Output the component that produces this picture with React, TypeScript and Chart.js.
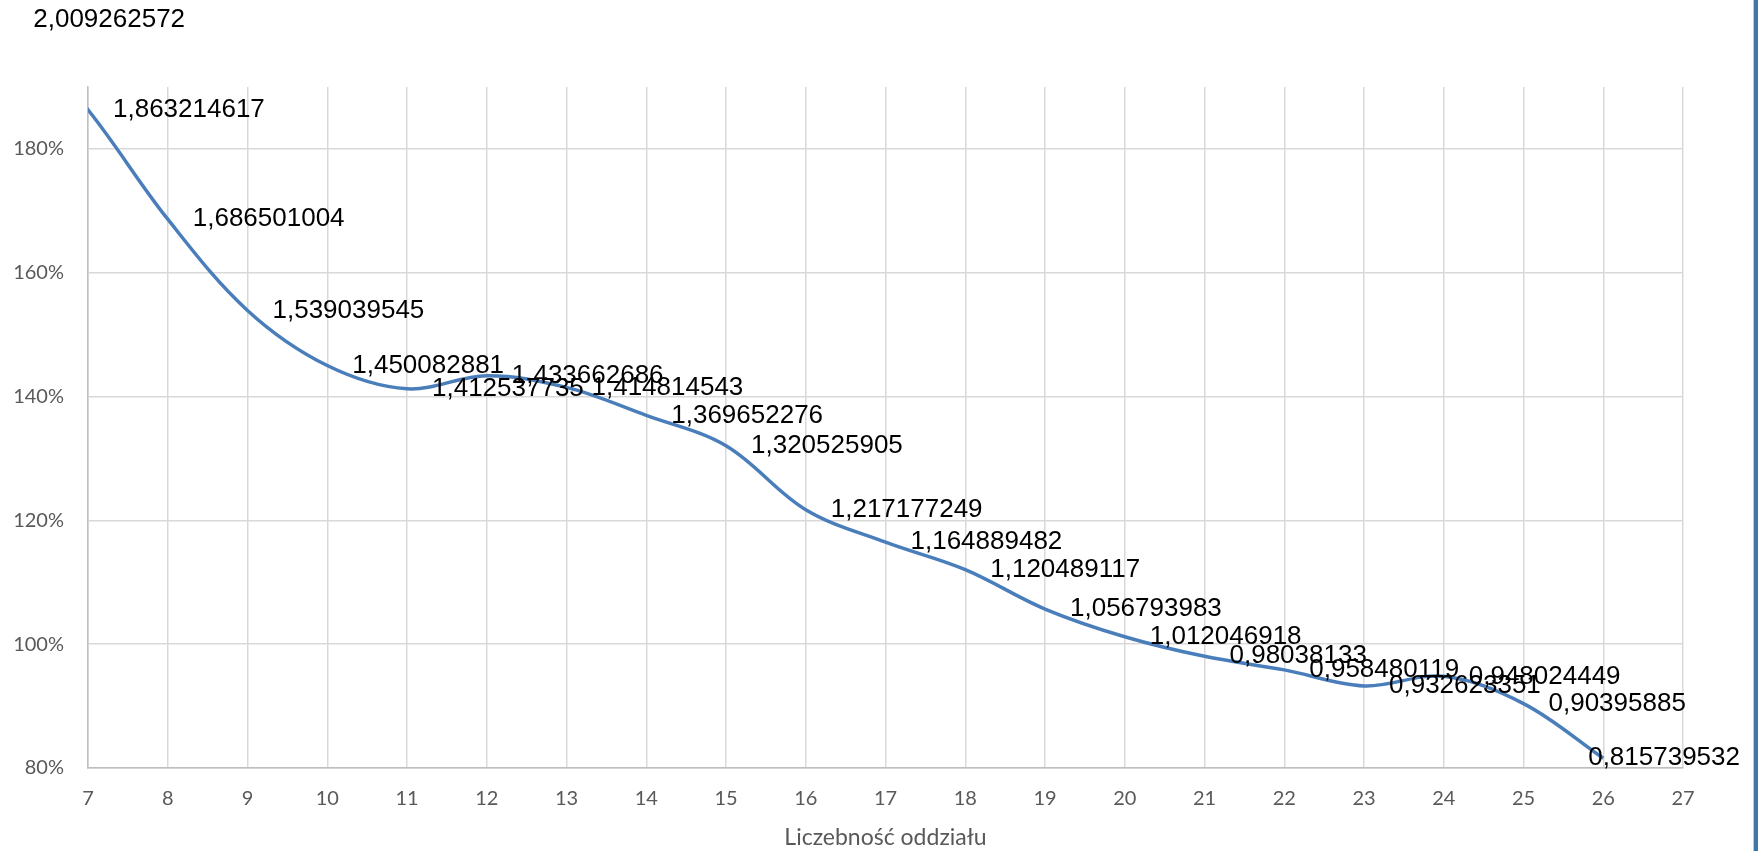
import React, { useEffect, useRef } from "react";
import { Chart, registerables } from "chart.js";

Chart.register(...registerables);

const classSizes = [6, 7, 8, 9, 10, 11, 12, 13, 14, 15, 16, 17, 18, 19, 20, 21, 22, 23, 24, 25, 26];
const ratios = [
  2.009262572, 1.863214617, 1.686501004, 1.539039545, 1.450082881, 1.412537735,
  1.433662686, 1.414814543, 1.369652276, 1.320525905, 1.217177249, 1.164889482,
  1.120489117, 1.056793983, 1.012046918, 0.98038133, 0.958480119, 0.932623351,
  0.948024449, 0.90395885, 0.815739532,
];
const yTickValues = [0.8, 1.0, 1.2, 1.4, 1.6, 1.8];
const xAxisTitle = "Liczebność oddziału";

const W = 1758;
const H = 851;

const labelPlugin = {
  id: "valueLabels",
  afterDatasetsDraw(chart: any) {
    const { ctx } = chart;
    const xs = chart.scales.x;
    const ys = chart.scales.y;
    ctx.save();
    ctx.font = '26px "Liberation Sans", Arial, sans-serif';
    ctx.fillStyle = "#000000";
    ctx.textBaseline = "middle";
    ctx.textAlign = "left";
    const rightLimit = chart.width - 13;
    classSizes.forEach((xv, i) => {
      const v = ratios[i];
      const text = String(v).replace(".", ",");
      const px = xs.getPixelForValue(xv);
      const py = ys.getPixelForValue(v);
      const w = ctx.measureText(text).width;
      let tx = px + 25;
      if (tx + w > rightLimit) tx = rightLimit - w;
      ctx.fillText(text, tx, py);
    });
    ctx.restore();
  },
};

export default function App() {
  const ref = useRef<HTMLCanvasElement | null>(null);
  useEffect(() => {
    if (!ref.current) return;
    const chart = new Chart(ref.current, {
      type: "line",
      data: {
        datasets: [
          {
            data: classSizes.map((x, i) => ({ x, y: ratios[i] })),
            borderColor: "#4a7ebb",
            borderWidth: 3.5,
            pointRadius: 0,
            pointHoverRadius: 0,
            tension: 0.35,
            fill: false,
          },
        ],
      },
      options: {
        animation: false,
        responsive: true,
        maintainAspectRatio: false,
        devicePixelRatio: 1,
        layout: { padding: { left: 0, right: 70, top: 87, bottom: 0 } },
        plugins: {
          legend: { display: false },
          tooltip: { enabled: false },
          title: { display: false },
        },
        scales: {
          x: {
            type: "linear",
            min: 7,
            max: 27,
            ticks: {
              stepSize: 1,
              padding: 19,
              color: "#595959",
              font: { family: "Lato", size: 20 },
            },
            grid: { color: "#d9d9d9", lineWidth: 1.5, drawTicks: false },
            border: { color: "#bfbfbf", width: 1.5 },
            title: {
              display: true,
              text: xAxisTitle,
              color: "#595959",
              font: { family: "Lato", size: 23 },
              padding: { top: 0, bottom: 0 },
            },
            afterFit(scale: any) {
              scale.height = 83;
            },
          },
          y: {
            type: "linear",
            min: 0.8,
            max: 1.9,
            ticks: {
              padding: 24,
              color: "#595959",
              font: { family: "Lato", size: 20 },
              callback: (v: any) => Math.round(Number(v) * 100) + "%",
            },
            afterBuildTicks(scale: any) {
              scale.ticks = yTickValues.map((value) => ({ value }));
            },
            grid: { color: "#d9d9d9", lineWidth: 1.5, drawTicks: false },
            border: { color: "#bfbfbf", width: 1.5 },
            afterFit(scale: any) {
              scale.width = 88;
            },
          },
        },
      },
      plugins: [labelPlugin],
    });
    return () => chart.destroy();
  }, []);

  return (
    <div style={{ position: "absolute", left: 0, top: 0, width: W, height: H, background: "#ffffff", overflow: "hidden" }}>
      <div style={{ position: "absolute", left: 0, top: 0, width: W - 5, height: H }}>
        <canvas ref={ref} />
      </div>
      <div style={{ position: "absolute", left: W - 5, top: 0, width: 1, height: H, background: "#c8c8c8" }} />
      <div style={{ position: "absolute", left: W - 4, top: 0, width: 4, height: H, background: "#3e78a8" }} />
    </div>
  );
}
